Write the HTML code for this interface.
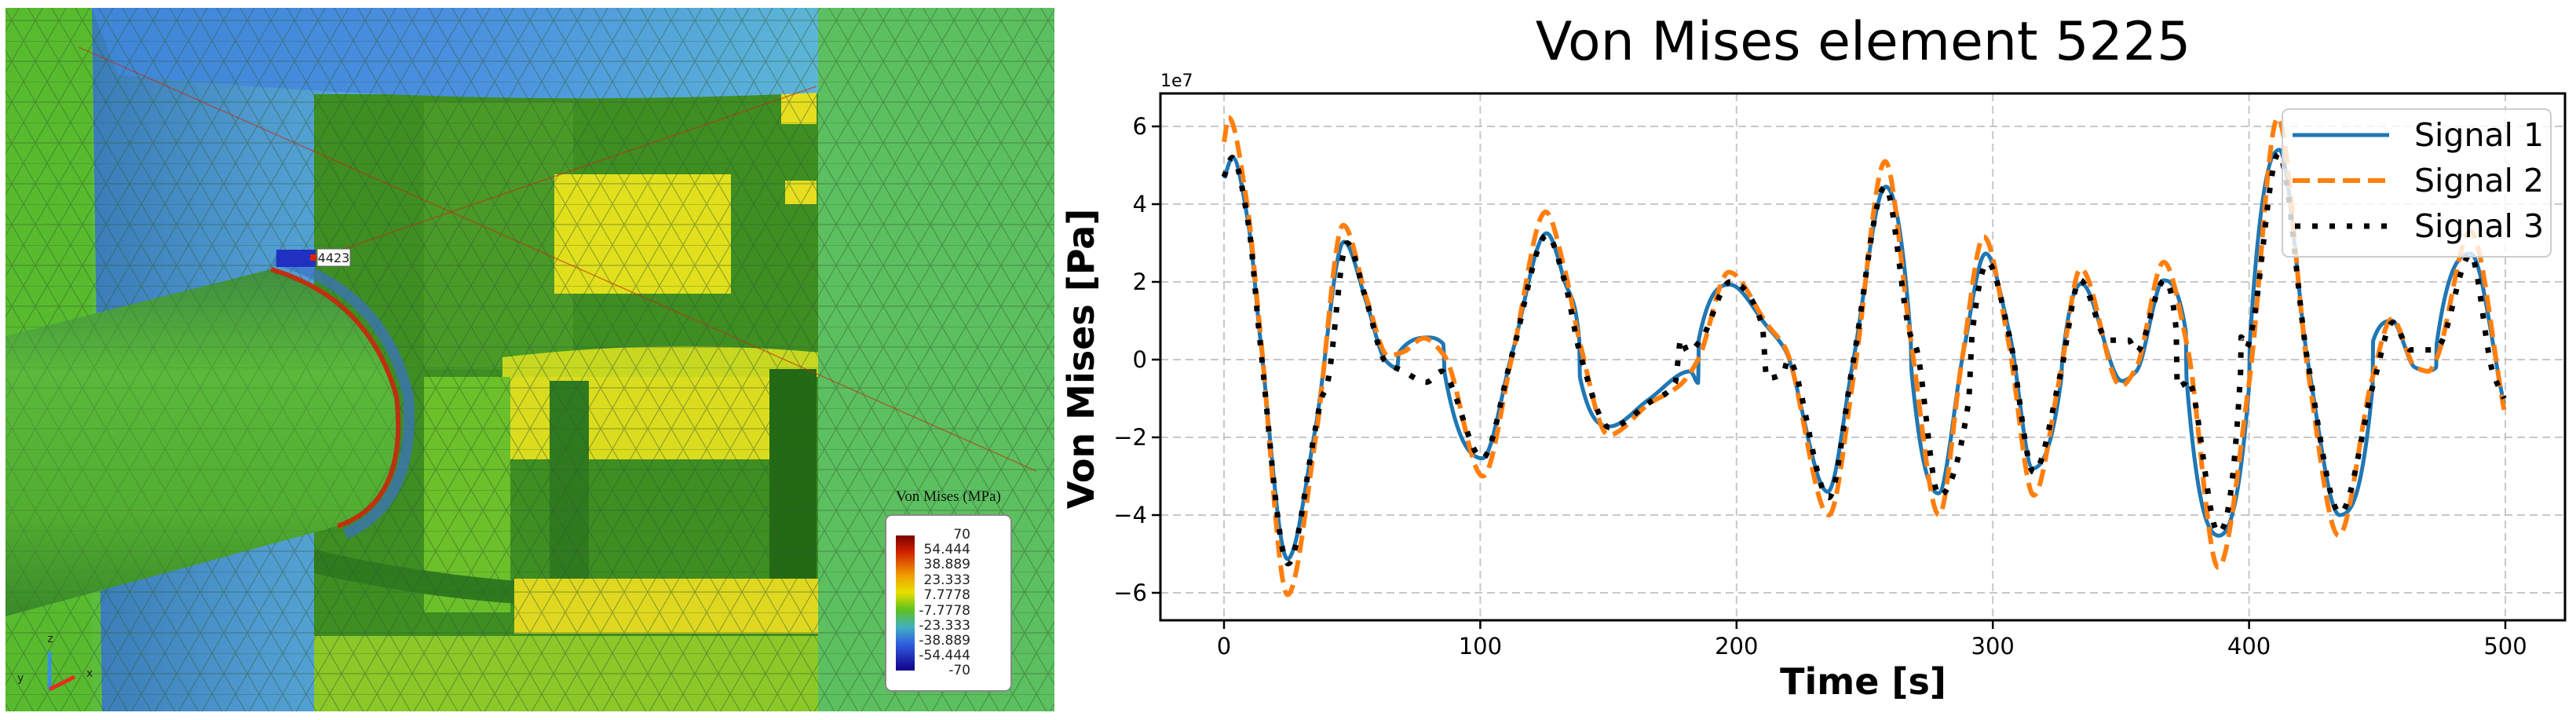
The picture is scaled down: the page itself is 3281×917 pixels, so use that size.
<!DOCTYPE html>
<html><head><meta charset="utf-8"><style>
html,body{margin:0;padding:0;background:#fff;}
svg{display:block;}
text{font-family:"DejaVu Sans","Liberation Sans",sans-serif;}
</style></head><body>
<svg id="root" width="3281" height="917" viewBox="0 0 3281 917" xmlns="http://www.w3.org/2000/svg">
<defs>
  <linearGradient id="gTop" x1="0" y1="0" x2="1" y2="0">
    <stop offset="0" stop-color="#3f86d8"/><stop offset="0.5" stop-color="#4a8fe0"/><stop offset="1" stop-color="#5cb6d6"/>
  </linearGradient>
  <linearGradient id="gCol" x1="0" y1="0" x2="1" y2="0">
    <stop offset="0" stop-color="#3a7cb8"/><stop offset="0.5" stop-color="#4f9ad0"/><stop offset="1" stop-color="#5aaed8"/>
  </linearGradient>
  <linearGradient id="gCyl" x1="0" y1="0" x2="0" y2="1">
    <stop offset="0" stop-color="#3f8f40"/><stop offset="0.3" stop-color="#5ab83a"/><stop offset="0.7" stop-color="#52ae30"/><stop offset="1" stop-color="#3a8a2a"/>
  </linearGradient>
  <linearGradient id="gBar" x1="0" y1="0" x2="0" y2="1">
    <stop offset="0" stop-color="#7a0000"/><stop offset="0.12" stop-color="#d02000"/><stop offset="0.3" stop-color="#f0a000"/>
    <stop offset="0.42" stop-color="#e8e000"/><stop offset="0.55" stop-color="#60c020"/><stop offset="0.68" stop-color="#40b0c0"/>
    <stop offset="0.8" stop-color="#3060e0"/><stop offset="1" stop-color="#10008a"/>
  </linearGradient>
  <pattern id="mesh" width="60" height="52" patternUnits="userSpaceOnUse">
    <path d="M0 0 L60 0 M0 26 L60 26 M0 0 L30 52 M30 0 L60 52 M30 0 L0 52 M60 0 L30 52" stroke="#2e5a2e" stroke-width="1.2" stroke-opacity="0.45" fill="none"/>
  </pattern>
  <pattern id="meshFine" width="24" height="20" patternUnits="userSpaceOnUse">
    <path d="M0 0 L24 0 M0 10 L24 10 M0 0 L12 20 M12 0 L24 20 M12 0 L0 20" stroke="#1e3e5e" stroke-width="1" stroke-opacity="0.4" fill="none"/>
  </pattern>
</defs>

<g>
  <rect x="7" y="10" width="1336" height="896" fill="#5cbd3c"/>
  <rect x="7" y="10" width="110" height="896" fill="#58bb2e"/>
  <path d="M117 10 L540 10 L540 906 L130 906 Z" fill="url(#gCol)"/>
  <rect x="400" y="120" width="660" height="786" fill="#3e8e22"/>
  <rect x="540" y="130" width="190" height="340" fill="#4a9a28"/>
  <rect x="706" y="222" width="225" height="152" fill="#e2e01c"/>
  <rect x="995" y="118" width="45" height="40" fill="#e8de20"/>
  <rect x="1000" y="230" width="40" height="30" fill="#e8de20"/>
  <path d="M640 455 Q850 430 1055 450 L1055 480 L640 480 Z" fill="#c8d820"/>
  <rect x="650" y="480" width="330" height="105" fill="#dcdc1e"/>
  <rect x="700" y="485" width="50" height="260" fill="#2f7a1e"/>
  <rect x="980" y="470" width="60" height="270" fill="#236a14"/>
  <rect x="540" y="480" width="110" height="300" fill="#6cc02a"/>
  <path d="M400 700 Q700 770 1060 735 L1060 760 Q700 800 400 730 Z" fill="#2f7a1e"/>
  <rect x="655" y="737" width="405" height="70" fill="#e0d820"/>
  <rect x="400" y="810" width="660" height="96" fill="#8cc828"/>
  <path d="M117 10 L1045 10 L1045 118 Q580 140 150 95 Z" fill="url(#gTop)"/>
  <rect x="1042" y="10" width="301" height="896" fill="#5cc060"/>
  <rect x="7" y="10" width="1336" height="896" fill="url(#mesh)"/>
  <path d="M7 428 L345 343 Q470 380 505 505 Q520 640 430 670 L7 785 Z" fill="url(#gCyl)"/>
  <path d="M345 343 Q470 380 505 505 Q520 640 430 670" fill="none" stroke="#c03010" stroke-width="6"/>
  <path d="M350 330 Q490 370 520 505 Q530 640 440 680" fill="none" stroke="#3a70c8" stroke-width="14" stroke-opacity="0.7"/>
  <path d="M7 428 L345 343 Q470 380 505 505 Q520 640 430 670 L7 785 Z" fill="url(#mesh)" opacity="0.6"/>
  <path d="M100 60 L1320 600" stroke="#c03010" stroke-width="1.5" opacity="0.6"/>
  <path d="M400 330 L1040 110" stroke="#c03010" stroke-width="1.5" opacity="0.6"/>
  <rect x="352" y="318" width="50" height="22" fill="#2030c0"/>
  <rect x="395" y="324" width="8" height="8" fill="#e02000"/>
  <rect x="404" y="317" width="42" height="22" fill="#ffffff" stroke="#666" stroke-width="1"/>
  <text x="425" y="334" font-size="16" text-anchor="middle" fill="#222" font-family="Liberation Sans">4423</text>
  <text x="1208" y="638" font-size="19" text-anchor="middle" fill="#111" style="font-family:'Liberation Serif',serif">Von Mises (MPa)</text>
  <rect x="1128" y="656" width="160" height="224" rx="8" fill="#ffffff" stroke="#888" stroke-width="2"/>
  <rect x="1141" y="682" width="24" height="172" fill="url(#gBar)"/>
  <g font-size="17" text-anchor="end" fill="#222" font-family="Liberation Sans">
    <text x="1236" y="686">70</text><text x="1236" y="705">54.444</text><text x="1236" y="724">38.889</text>
    <text x="1236" y="744">23.333</text><text x="1236" y="763">7.7778</text><text x="1236" y="783">-7.7778</text>
    <text x="1236" y="802">-23.333</text><text x="1236" y="821">-38.889</text><text x="1236" y="840">-54.444</text>
    <text x="1236" y="859">-70</text>
  </g>
  <g>
    <line x1="63" y1="878" x2="63" y2="830" stroke="#3a90e0" stroke-width="5"/>
    <line x1="63" y1="878" x2="95" y2="862" stroke="#e03020" stroke-width="5"/>
    <text x="64" y="818" font-size="14" fill="#222" text-anchor="middle">z</text>
    <text x="110" y="862" font-size="14" fill="#222">x</text>
    <text x="22" y="868" font-size="14" fill="#222">y</text>
  </g>
</g>

<g id="chart">
  <text x="2373" y="76" font-size="68" text-anchor="middle" fill="#000">Von Mises element 5225</text>
  <rect x="1478" y="119" width="1789" height="671" fill="#fff"/>
  <g id="grid"></g>
  <g id="series"></g>
  <rect x="1478" y="119" width="1789" height="671" fill="none" stroke="#000" stroke-width="3"/>
  <g id="ticks"></g>
  <text x="1478" y="110" font-size="22" fill="#000">1e7</text>
  <text x="2373" y="884" font-size="46" font-weight="bold" text-anchor="middle" fill="#000">Time [s]</text>
  <text x="0" y="0" font-size="46" font-weight="bold" text-anchor="middle" fill="#000" transform="translate(1393,457) rotate(-90)">Von Mises [Pa]</text>
  <g>
    <rect x="2907" y="139" width="342" height="188" rx="8" fill="#fff" fill-opacity="0.8" stroke="#cccccc" stroke-width="2"/>
    <line x1="2920" y1="172" x2="3043" y2="172" stroke="#1f77b4" stroke-width="5"/>
    <text x="3075" y="186" font-size="41" fill="#000">Signal 1</text>
    <line x1="2920" y1="230" x2="3043" y2="230" stroke="#ff7f0e" stroke-width="6" stroke-dasharray="22 10"/>
    <text x="3075" y="244" font-size="41" fill="#000">Signal 2</text>
    <line x1="2923" y1="288" x2="3043" y2="288" stroke="#000" stroke-width="7" stroke-dasharray="7 15"/>
    <text x="3075" y="302" font-size="41" fill="#000">Signal 3</text>
  </g>
</g>
</svg>
<script>
const xTicks = [0, 100, 200, 300, 400, 500];
const yTicks = [-6, -4, -2, 0, 2, 4, 6];
const yTickLabels = ["\u22126", "\u22124", "\u22122", "0", "2", "4", "6"];
const s1T = [0,3.4,9.7,14.1,24.8,35.6,46.8,55.6,63.1,67.6,68.2,79.4,85.6,86.1,100.8,112.5,125.9,133,138.6,138.9,150.4,165.7,182,185,185.3,197.3,211.7,218.8,235.6,245.4,258.2,267.9,268.3,278.8,288.3,297.2,306.7,315.6,326.8,327,334.6,350.5,356,366.7,375.3,375.6,388.2,400,400.3,411.8,423,435.3,448.2,448.4,455.8,464.7,469,473,473.2,486.4,499.5];
const s1V = [4.67,5.2,3.4,0.57,-5.13,-1.8,3.03,1.47,-0.03,-0.22,0.18,0.57,0.4,-0.35,-2.54,0.18,3.25,2.0,0.53,-0.46,-1.72,-1.03,-0.3,-0.6,0.53,1.93,0.87,0.27,-3.4,-0.08,4.45,0.61,-0.3,-3.44,0.1,2.73,0.61,-2.8,-0.45,-0.1,1.95,-0.55,-0.3,2.04,0.73,-0.5,-4.53,-0.68,0.45,5.4,-0.08,-4.0,-0.7,0.48,1.0,-0.2,-0.29,-0.2,0.4,2.73,-1.15];
const s2T = [0,1.8,9,14,24.8,36,46.5,56,64,70,78,86,101,112.5,125.5,133,139,150,166,178,185,197,212,219,236,246,258,268,279,288,296.5,306,316,326,334.3,350,356,366.7,376,388,400,411.2,423,435,448,455.8,465,470,473,486.4,499.5];
const s2V = [5.6,6.23,4.0,0.8,-6.05,-1.9,3.46,1.5,0.1,0.2,0.55,0.1,-3.0,0.1,3.8,2.3,0.4,-1.94,-1.13,-0.65,0.0,2.25,0.9,0.3,-4.0,-0.3,5.1,0.5,-4.0,0.0,3.16,0.5,-3.49,-0.5,2.34,-0.68,-0.2,2.51,0.3,-5.35,-0.6,6.22,-0.3,-4.53,-0.5,1.05,-0.2,-0.3,0.0,3.3,-1.29];
const s3T = [0,3.2,9.7,14,25,35.6,38,40,48,55.6,63,70,79,85,87,100.8,112.5,126,133,139,150.5,166,176,178.3,181,186,197.5,210,211.8,218.3,220,236,245.4,258,268,269.9,279,290.5,292,298,306.5,316,326.5,334,345,353,356,367,371.5,372,375,376,388,396.7,396.9,399,401,411.5,423,435.5,449,456,463,471,474,486.4,495,499.5];
const s3V = [4.7,5.2,3.4,0.5,-5.25,-1.8,-1.0,-0.7,3.0,1.5,-0.05,-0.3,-0.58,-0.3,-0.45,-2.54,0.15,3.2,2.0,0.14,-1.75,-1.1,-0.6,0.53,0.2,0.5,2.0,0.9,-0.48,-0.35,0.0,-3.55,-0.1,4.45,0.6,0.35,-3.5,-1.1,0.7,2.5,0.6,-2.9,-0.34,2.05,0.5,0.5,0.2,2.04,0.8,-0.7,-0.6,-0.5,-4.45,-0.3,0.58,0.3,0.75,5.3,-0.1,-3.95,-0.5,0.95,0.25,0.25,0.35,2.7,-0.3,-1.0];

const NS = "http://www.w3.org/2000/svg";
const X0 = 1478, X1 = 3267, Y0 = 119, Y1 = 790;
function xScale(t){ return 1559 + (t - 0) * (3191 - 1559) / 500; }
function yScale(v){ return 458 - v * 49.5; }

function mk(tag, attrs, parent){
  const el = document.createElementNS(NS, tag);
  for (const k in attrs) el.setAttribute(k, attrs[k]);
  parent.appendChild(el);
  return el;
}

const grid = document.getElementById('grid');
const ticks = document.getElementById('ticks');
xTicks.forEach(function(t){
  const x = xScale(t);
  const g = mk('line', {x1:x, y1:Y0, x2:x, y2:Y1, stroke:'#b0b0b0', 'stroke-width':2, 'stroke-dasharray':'10 6', 'stroke-opacity':0.7}, grid);
  
  
  const tk = mk('line', {x1:x, y1:Y1, x2:x, y2:Y1+11, stroke:'#000', 'stroke-width':2.5}, ticks);
  
  
  const lb = mk('text', {x:x, y:Y1+43, 'font-size':29, 'text-anchor':'middle', fill:'#000'}, ticks);
  lb.textContent = String(t);
  
  
});
yTicks.forEach(function(v, i){
  const y = yScale(v);
  const g = mk('line', {x1:X0, y1:y, x2:X1, y2:y, stroke:'#b0b0b0', 'stroke-width':2, 'stroke-dasharray':'10 6', 'stroke-opacity':0.7}, grid);
  
  
  const tk = mk('line', {x1:X0-11, y1:y, x2:X0, y2:y, stroke:'#000', 'stroke-width':2.5}, ticks);
  
  
  const lb = mk('text', {x:X0-17, y:y+10, 'font-size':29, 'text-anchor':'end', fill:'#000'}, ticks);
  lb.textContent = yTickLabels[i];
  
  
});

// monotone cubic (Fritsch-Carlson) path through data points
function monoPath(ts, vs){
  const xs = ts.map(xScale), ys = vs.map(yScale), n = xs.length;
  const d = [], m = new Array(n);
  for (let i=0;i<n-1;i++) d.push((ys[i+1]-ys[i])/(xs[i+1]-xs[i]));
  m[0]=d[0]; m[n-1]=d[n-2];
  for (let i=1;i<n-1;i++){
    if (d[i-1]*d[i] <= 0) m[i]=0;
    else { const w1 = 2*(xs[i+1]-xs[i])+(xs[i]-xs[i-1]), w2=(xs[i+1]-xs[i])+2*(xs[i]-xs[i-1]); m[i]=(w1+w2)/(w1/d[i-1]+w2/d[i]); }
  }
  let p = 'M'+xs[0].toFixed(1)+' '+ys[0].toFixed(1);
  for (let i=0;i<n-1;i++){
    const h = xs[i+1]-xs[i];
    p += ' C'+(xs[i]+h/3).toFixed(1)+' '+(ys[i]+m[i]*h/3).toFixed(1)+' '+(xs[i+1]-h/3).toFixed(1)+' '+(ys[i+1]-m[i+1]*h/3).toFixed(1)+' '+xs[i+1].toFixed(1)+' '+ys[i+1].toFixed(1);
  }
  return p;
}
const series = document.getElementById('series');
const p1 = mk('path', {d:monoPath(s1T,s1V), fill:'none', stroke:'#1f77b4', 'stroke-width':5, 'stroke-linejoin':'round'}, series);


const p2 = mk('path', {d:monoPath(s2T,s2V), fill:'none', stroke:'#ff7f0e', 'stroke-width':6, 'stroke-dasharray':'22 10'}, series);


const p3 = mk('path', {d:monoPath(s3T,s3V), fill:'none', stroke:'#000', 'stroke-width':7, 'stroke-dasharray':'7 15'}, series);


</script>
</body></html>
